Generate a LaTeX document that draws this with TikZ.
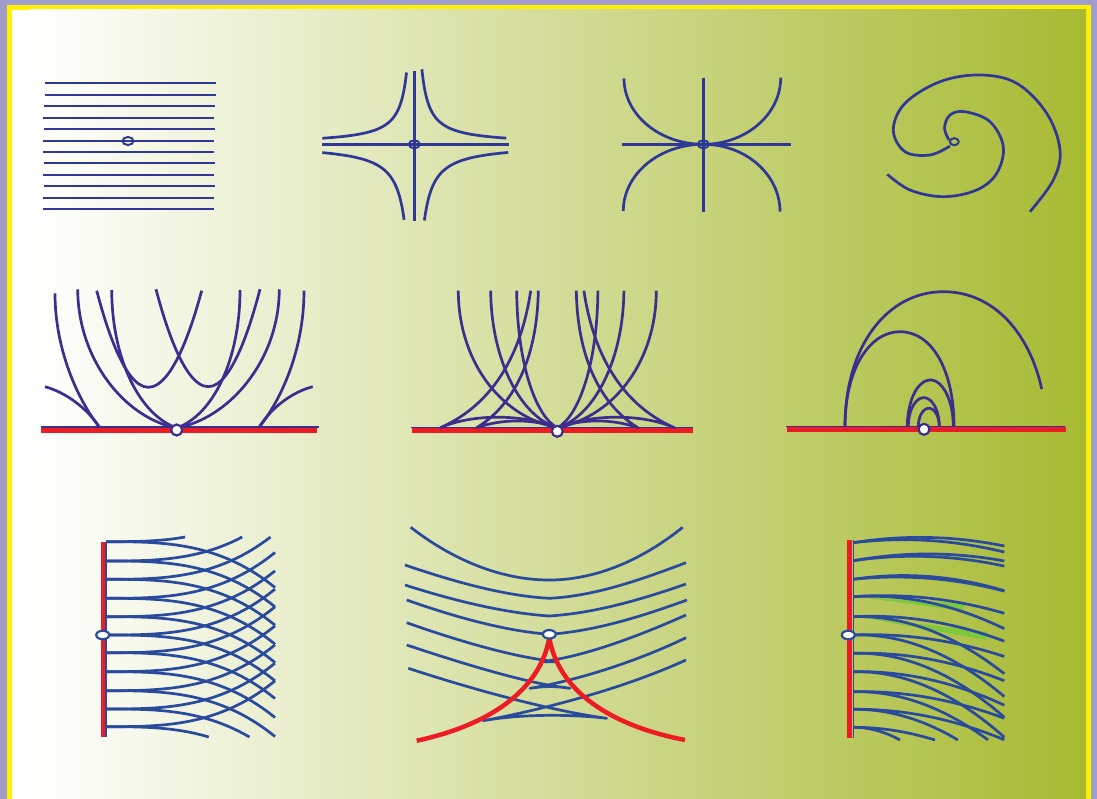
\documentclass[tikz,border=0pt]{standalone}
\usetikzlibrary{shapes.geometric}
\definecolor{lav}{RGB}{160,156,203}
\definecolor{ylw}{RGB}{255,242,0}
\definecolor{bgR}{RGB}{167,186,50}
\definecolor{bA}{RGB}{47,56,150}
\definecolor{bB}{RGB}{59,46,142}
\definecolor{bC}{RGB}{42,74,158}
\definecolor{rd}{RGB}{237,28,36}
\definecolor{hl}{RGB}{125,200,60}
\begin{document}
\begin{tikzpicture}[x=1pt,y=-1pt,line join=round,
  crvA/.style={draw=bA,line width=2.7pt},
  crvB/.style={draw=bB,line width=2.7pt},
  crvC/.style={draw=bC,line width=2.7pt},
  redl/.style={draw=rd,line width=5pt},
  baseB/.style={draw=bB,line width=1.4pt},
  baseC/.style={draw=bC,line width=1.4pt},
  singA/.style={ellipse,draw=bA,line width=2pt,minimum width=11pt,minimum height=8pt,inner sep=0pt},
  singW/.style={circle,draw=bB,fill=white,line width=2.2pt,minimum size=11pt,inner sep=0pt},
  singC/.style={ellipse,draw=bC,fill=white,line width=2.2pt,minimum width=13pt,minimum height=8.5pt,inner sep=0pt}]
\useasboundingbox (0,0) rectangle (1097,799);
% frame and background
\fill[lav] (0,0) rectangle (1097,799);
\fill[ylw] (7,5) rectangle (1091,799);
\fill[white] (12,10) rectangle (1086,799);
\shade[left color=white,right color=bgR] (30,10) rectangle (1086,799);

% ---------- panel 1: parallel lines
\foreach \yy/\xa/\xb in {83/45/215.7,95/45/215.7,106/44/214.7,118/43/213.7,129/44/214.7,141/43/213.7,152/43/213.7,163/44/214.7,175/43/213.7,186/44/214.7,198/43/213.7,209/43/213.7}
  \draw[crvA] (\xa,\yy) -- (\xb,\yy);
\node[singA] (s1) at (128,141) {};

% ---------- panel 2: saddle
\draw[crvA] (322,144.3) -- (509,144.3);
\draw[crvA] (414.3,71) -- (414.3,221);
\begin{scope}[shift={(414.3,144.3)}]
  \draw[crvA] plot[domain=2.054:4.522,samples=50,smooth] ({-exp(\x)},{-560*exp(-\x)});
  \draw[crvA] plot[domain=2.028:4.522,samples=50,smooth] ({exp(\x)},{-570*exp(-\x)});
  \draw[crvA] plot[domain=2.322:4.522,samples=50,smooth] ({-exp(\x)},{770*exp(-\x)});
  \draw[crvA] plot[domain=2.313:4.543,samples=50,smooth] ({exp(\x)},{770*exp(-\x)});
\end{scope}
\node[singA] (s2) at (414.3,144.3) {};

% ---------- panel 3: node
\draw[crvA] (622,144.3) -- (790.7,144.3);
\draw[crvA] (703.3,77.7) -- (703.3,212.3);
\draw[crvA] (624,78.3) .. controls (624,114.7) and (659.5,144.3) .. (703.3,144.3);
\draw[crvA] (780.7,77.7) .. controls (780.7,114.4) and (746,144.3) .. (703.3,144.3);
\draw[crvA] (623.3,211) .. controls (623.3,174.2) and (659.1,144.3) .. (703.3,144.3);
\draw[crvA] (780,211.7) .. controls (780,174.5) and (745.6,144.3) .. (703.3,144.3);
\node[singA] (s3) at (703.3,144.3) {};

% ---------- panel 4: spiral
\draw[crvA] plot[smooth,tension=0.6] coordinates {(949,140) (944.5,128) (950,115) (965,111.7) (990,121.7) (1003.3,146.7) (996.7,173.3) (976.7,190) (943.3,196.7) (910,190) (887.3,174.3)};
\draw[crvA] plot[smooth,tension=0.6] coordinates {(950,146) (930,155) (905,151.7) (893.3,130) (905,103.3) (940,81.7) (980,75) (1016.7,83.3) (1046.7,113.3) (1060,150) (1053.3,180) (1030,211.7)};
\node[singA,minimum width=9pt,minimum height=7pt] (s4) at (954.3,141.7) {};

% ---------- panel 5
\draw[redl] (41,430) -- (316.7,430);
\draw[baseB] (41,426.8) -- (319,426.8);
\draw[crvB] (55,293.3) .. controls (55,350) and (78,400) .. (99.3,427);
\draw[crvB] (45,386.7) .. controls (65,392) and (87,408) .. (99.3,427);
\draw[crvB] (77.7,289.3) .. controls (78,360) and (125,418) .. (176.7,428);
\draw[crvB] (111.7,290) .. controls (112,360) and (140,415) .. (176.7,428);
\draw[crvB] (240,290) .. controls (240,360) and (213,415) .. (176.7,428);
\draw[crvB] (279.3,289.3) .. controls (279,360) and (230,418) .. (176.7,428);
\draw[crvB] (304,290.7) .. controls (304,350) and (281,400) .. (259.3,427);
\draw[crvB] (312.7,386.7) .. controls (292,392) and (271,408) .. (259.3,427);
\draw[crvB] (96.7,290.7) parabola bend (148.3,387.3) (201.7,290.7);
\draw[crvB] (156,289.3) parabola bend (208.3,386.7) (260,289.3);
\node[singW] (m1) at (176.7,430) {};

% ---------- panel 6
\draw[redl] (411.7,430.8) -- (692.7,430.8);
\draw[baseB] (411,427.7) -- (693,427.7);
\foreach \sx in {1,-1}{
\begin{scope}[shift={(557.3,427.7)},xscale=\sx]
  \draw[crvB] (-99,-137) .. controls (-99,-70) and (-60,-12) .. (0,0);
  \draw[crvB] (-66.6,-137) .. controls (-66,-65) and (-35,-10) .. (0,0);
  \draw[crvB] (-40.6,-137) .. controls (-40,-60) and (-20,-10) .. (0,0);
  \draw[crvB] (-26.6,-137) .. controls (-35,-80) and (-60,-25) .. (-117,0) .. controls (-85,-14) and (-35,-14) .. (0,0);
  \draw[crvB] (-19,-137) .. controls (-20,-75) and (-40,-25) .. (-80.6,0) .. controls (-55,-9) and (-25,-9) .. (0,0);
\end{scope}}
\node[singW] (m2) at (557.3,431.3) {};

% ---------- panel 7
\draw[redl] (786.7,429.5) -- (1066,429.5);
\draw[baseB] (786,426.7) -- (1065,426.7);
\draw[crvB] (845,426.7) .. controls (845,345) and (888,291.7) .. (943.3,291.7) .. controls (995,291.7) and (1030,335) .. (1041.7,389);
\draw[crvB] (845,426.7) .. controls (845,368) and (870,331.7) .. (900,331.7) .. controls (932,331.7) and (954,370) .. (954,426.7);
\draw[crvB] plot[domain=180:0,samples=40,smooth] ({930.3+23*cos(\x)},{426.7-46.7*sin(\x)});
\draw[crvB] plot[domain=180:0,samples=40,smooth] ({923.8+15.5*cos(\x)},{426.7-29*sin(\x)});
\draw[crvB] plot[domain=180:0,samples=40,smooth] ({928.8+10.5*cos(\x)},{426.7-18.4*sin(\x)});
\node[singW] (m3) at (924,429.3) {};

% ---------- panel 8
\foreach \yy in {541.7,561,579.3,598.3,616.7,635,652.7,671.7,690.7,709,726.7}{
  \pgfmathsetmacro\du{min(169,100*((\yy-537)/9.5)^(1/3))}
  \pgfmathsetmacro\dd{min(169,100*((737-\yy)/9.5)^(1/3))}
  \draw[crvC] plot[domain=0:\du,samples=30,smooth] ({106+\x},{\yy-9.5*(\x/100)^3});
  \draw[crvC] plot[domain=0:\dd,samples=30,smooth] ({106+\x},{\yy+9.5*(\x/100)^3});
}
\draw[draw=rd,line width=4.5pt] (102.8,541.7) -- (102.8,737.3);
\draw[baseC] (106,541.7) -- (106,737.3);
\node[singC] (b1) at (102.7,635) {};

% ---------- panel 9
\fill[hl] (860,597) -- (965,604) -- (962,611) -- cycle;
\fill[hl] (860,617) -- (988,632) -- (986,640) -- cycle;
\foreach \yy/\ss/\kk in {542.7/0.16/0.0012, 542.7/0.12/0.0012,
  560.7/0.18/0.0012, 560.7/0.146/0.0012,
  579.3/0.104/0.0012, 579.3/0.15/0.0015,
  596.7/0.072/0.0012, 596.7/0.06/0.0018,
  616.7/0.05/0.0014, 616.7/0.03/0.0027,
  635/0.04/0.0012, 635/0.03/0.0029,
  653.3/0.03/0.0014, 653.3/0.03/0.003,
  671.7/0.02/0.0016, 671.7/0.02/0.003,
  691.7/0.02/0.0013, 691.7/0.02/0.0028,
  709.3/0.01/0.0014, 709.3/0.01/0.0029,
  727.3/0/0.0019, 727.3/0/0.0058}{
  \pgfmathsetmacro\ee{min(151,(\ss+sqrt(\ss*\ss+4*\kk*(740-\yy)))/(2*\kk))}
  \draw[crvC] plot[domain=0:\ee,samples=40,smooth] ({853.3+\x},{\yy-\ss*\x+\kk*\x*\x});
}
\draw[draw=rd,line width=5pt] (849.5,540) -- (849.5,738.3);
\draw[baseC] (853.3,540) -- (853.3,738.3);
\node[singC] (b3) at (848.3,635) {};

% ---------- panel 10
\draw[crvC] (410.7,527.3) parabola bend (549.3,580) (682.7,527.3);
\draw[crvC] (405,565) .. controls (455,582) and (505,596) .. (549.3,598.3) .. controls (595,596) and (640,580) .. (686,562.7);
\draw[crvC] (405,585) .. controls (455,601) and (505,613) .. (549.3,616) .. controls (595,613) and (640,600) .. (686,584);
\draw[crvC] (406.7,600) .. controls (455,617) and (505,631) .. (549.3,634.3) .. controls (595,631) and (640,617) .. (687,600);
\draw[crvC] (406.7,622.7) .. controls (470,645) and (520,658) .. (556.7,661.7) -- (541.7,661.7) .. controls (580,657) and (630,640) .. (686,615);
\draw[crvC] (406.7,645) .. controls (470,666) and (530,684) .. (570,688.3) .. controls (555,686) and (545,686) .. (530,688.3) .. controls (580,680) and (640,660) .. (686,637.7);
\draw[crvC] (408.3,668.3) .. controls (490,695) and (560,712) .. (606.7,718.3) .. controls (570,714) and (520,714) .. (483.3,720.7) .. controls (540,710) and (620,690) .. (686,660);
\draw[draw=rd,line width=4.5pt] (416.7,740.7) .. controls (490,725) and (540,690) .. (549.3,638) .. controls (558.6,690) and (608,725) .. (685,740);
\node[singC] (b2) at (549.3,634.3) {};
\end{tikzpicture}
\end{document}
